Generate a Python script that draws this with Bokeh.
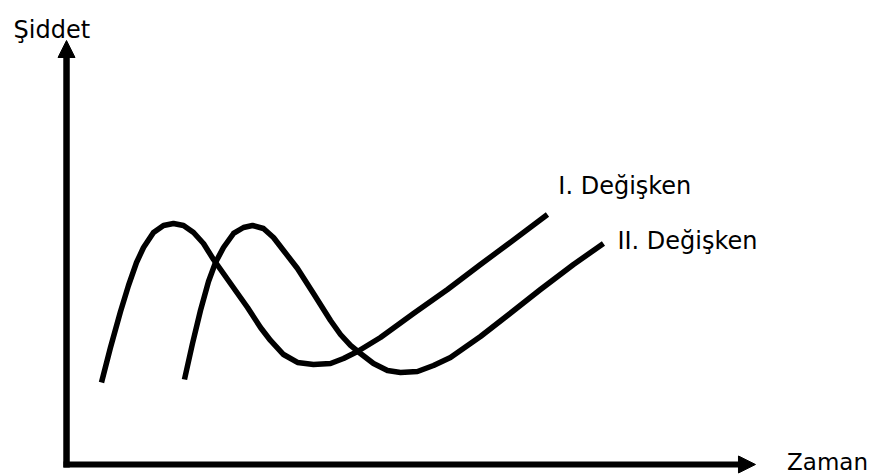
from bokeh.plotting import figure
from bokeh.models import Arrow, NormalHead, Range1d, ColumnDataSource
from bokeh.core.properties import value
from bokeh.embed import file_html
from bokeh.resources import INLINE

# ---- data (time, intensity) ----
time_1 = [4.80, 6.11, 7.57, 8.73, 9.90, 10.92, 12.37, 13.83, 15.28, 16.74, 18.20, 19.65,
          21.11, 23.58, 26.06, 27.95, 29.40, 31.30, 33.33, 35.66, 38.14, 40.03, 42.07,
          45.41, 50.22, 55.17, 59.97, 63.90, 69.72]
intensity_1 = [18.96, 27.25, 35.78, 41.94, 47.39, 50.95, 54.50, 56.16, 56.64, 56.16, 54.50, 51.90,
               48.10, 42.42, 36.73, 31.99, 28.91, 25.59, 23.70, 23.22, 23.46, 24.64, 26.30,
               29.62, 35.31, 41.00, 46.92, 51.66, 58.77]

time_2 = [16.88, 18.05, 19.21, 20.38, 21.40, 22.56, 24.02, 25.47, 26.78, 28.38, 29.84, 31.30,
          33.33, 35.66, 38.14, 39.59, 41.05, 42.50, 44.40, 46.43, 48.33, 50.80, 53.13,
          55.60, 59.97, 63.90, 68.70, 73.51, 77.87]
intensity_2 = [19.67, 28.20, 36.02, 42.89, 47.39, 50.95, 54.27, 55.69, 56.16, 55.45, 53.32, 50.24,
               45.97, 40.05, 33.65, 30.33, 27.73, 25.83, 23.46, 21.80, 21.33, 21.56, 22.99,
               24.88, 29.86, 34.83, 41.00, 46.92, 51.90]

series_labels = ["I. Değişken", "II. Değişken"]
y_axis_label = "Şiddet"
x_axis_label = "Zaman"

FONT = value("DejaVu Sans")

p = figure(width=880, height=476, output_backend="svg", toolbar_location=None,
           x_range=Range1d(-9.90, 118.20), y_range=Range1d(-3.32, 109.48),
           min_border=0, min_border_left=0, min_border_right=0,
           min_border_top=0, min_border_bottom=0)
p.axis.visible = False
p.grid.visible = False
p.outline_line_color = None
p.background_fill_color = "white"
p.border_fill_color = "white"

# curves
for tx, iy in ((time_1, intensity_1), (time_2, intensity_2)):
    p.line(tx, iy, line_color="black", line_width=5.5,
           line_cap="butt", line_join="round")

# axes as arrows
p.add_layout(Arrow(end=NormalHead(size=17, fill_color="black", line_color="black", line_width=1),
                   x_start=-0.29, y_start=-1.18, x_end=-0.29, y_end=100,
                   line_color="black", line_width=6.5))
p.add_layout(Arrow(end=NormalHead(size=17, fill_color="black", line_color="black", line_width=1),
                   x_start=-0.73, y_start=-0.47, x_end=100, y_end=-0.47,
                   line_color="black", line_width=6))

# texts
labels = ColumnDataSource(dict(
    x=[-8.0, 71.3, 79.9],
    y=[102.6, 65.6, 52.6],
    t=[y_axis_label] + series_labels,
))
p.text(x="x", y="y", text="t", source=labels, text_font=FONT, text_font_size=value("24px"),
       text_color="black", text_align="left", text_baseline="alphabetic")
p.text(x=[104.6], y=[0.1], text=[x_axis_label], text_font=FONT, text_font_size=value("23px"),
       text_color="black", text_align="left", text_baseline="alphabetic")

open("out.html", "w").write(file_html(p, INLINE))
